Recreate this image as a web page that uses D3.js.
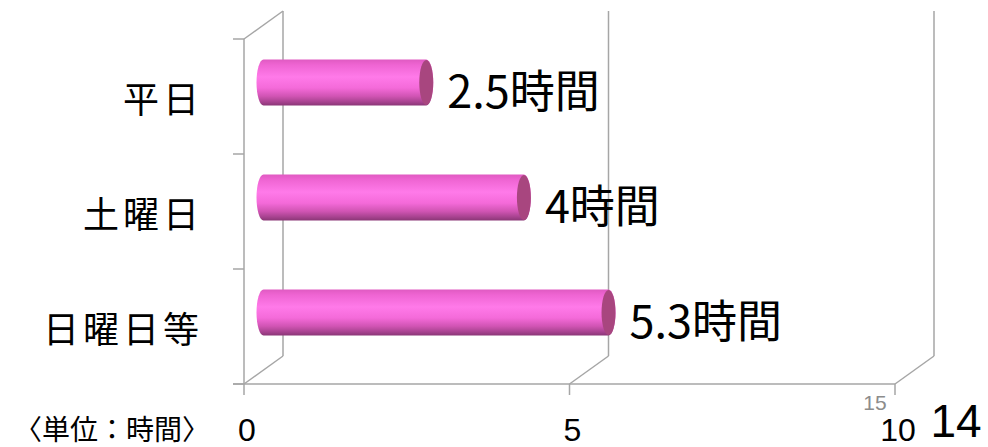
<!DOCTYPE html>
<html><head><meta charset="utf-8">
<script src="https://cdn.jsdelivr.net/npm/d3@7"></script>
<style>
html,body{margin:0;padding:0;background:#fff;}
svg{display:block;}
text{font-family:"Noto Sans CJK JP","Noto Sans",sans-serif;}
</style></head><body>
<svg id="chart" width="988" height="447"></svg>
<script>
const categories = ["平日", "土曜日", "日曜日等"];
const values = [2.5, 4, 5.3];
const valueLabels = ["2.5時間", "4時間", "5.3時間"];
const tickValues = [0, 5, 10];
const unitLabel = "〈単位：時間〉";
const extraTickLabel = "15";
const pageNumber = "14";

const svg = d3.select("#chart");

// front plane scales
const x = d3.scaleLinear().domain([0, 10]).range([244, 895]);
const y = d3.scaleBand().domain(categories).range([39, 384]);
const depth = {dx: 39, dy: -28};
const grid = "#a6a6a6";

const defs = svg.append("defs");
const grad = defs.append("linearGradient").attr("id", "cyl")
  .attr("x1", 0).attr("y1", 0).attr("x2", 0).attr("y2", 1);
[["0%", "#e05ac2"], ["12%", "#ef65d3"], ["38%", "#ff7ae9"], ["62%", "#f46ad9"],
 ["80%", "#d054b3"], ["92%", "#a84390"], ["100%", "#8a3676"]]
  .forEach(([o, c]) => grad.append("stop").attr("offset", o).attr("stop-color", c));

const g = svg.append("g");

// back wall verticals (gridlines)
g.selectAll(".backv").data(tickValues).join("line")
  .attr("x1", d => x(d) + depth.dx).attr("x2", d => x(d) + depth.dx)
  .attr("y1", y.range()[0] + depth.dy).attr("y2", y.range()[1] + depth.dy)
  .attr("stroke", grid).attr("stroke-width", 1.5);
// floor diagonals
g.selectAll(".floord").data(tickValues).join("line")
  .attr("x1", d => x(d)).attr("x2", d => x(d) + depth.dx)
  .attr("y1", y.range()[1]).attr("y2", y.range()[1] + depth.dy)
  .attr("stroke", grid).attr("stroke-width", 1.5);
// top-left diagonal of side wall
g.append("line")
  .attr("x1", x(0)).attr("x2", x(0) + depth.dx)
  .attr("y1", y.range()[0]).attr("y2", y.range()[0] + depth.dy)
  .attr("stroke", grid).attr("stroke-width", 1.5);
// front left axis
g.append("line").attr("x1", x(0)).attr("x2", x(0))
  .attr("y1", y.range()[0]).attr("y2", y.range()[1])
  .attr("stroke", grid).attr("stroke-width", 1.5);
// category ticks
const catTicks = categories.map(c => y(c)).concat([y.range()[1]]);
g.selectAll(".ctick").data(catTicks).join("line")
  .attr("x1", x(0) - 11).attr("x2", x(0))
  .attr("y1", d => d).attr("y2", d => d)
  .attr("stroke", grid).attr("stroke-width", 1.5);
// floor front line
g.append("line").attr("x1", x(0) - 11).attr("x2", x(10))
  .attr("y1", y.range()[1]).attr("y2", y.range()[1])
  .attr("stroke", grid).attr("stroke-width", 1.5);
// x ticks
g.selectAll(".xtick").data(tickValues).join("line")
  .attr("x1", d => x(d)).attr("x2", d => x(d))
  .attr("y1", y.range()[1]).attr("y2", y.range()[1] + 11)
  .attr("stroke", grid).attr("stroke-width", 1.5);

// bars at mid depth
const mx = v => x(v) + depth.dx / 2;
const my = c => y(c) + y.bandwidth() / 2 + depth.dy / 2;
const barH = 46, rx = 7, ry = barH / 2;

const bars = g.selectAll(".bar").data(categories.map((c, i) => ({c, v: values[i], label: valueLabels[i]})))
  .join("g");
bars.append("path")
  .attr("d", d => {
    const x0 = mx(0), x1 = mx(d.v), yc = my(d.c);
    const t = yc - ry, b = yc + ry;
    return `M${x0},${t} L${x1},${t} A${rx},${ry} 0 0 1 ${x1},${b} L${x0},${b} A${rx},${ry} 0 0 1 ${x0},${t} Z`;
  })
  .attr("fill", "url(#cyl)");
bars.append("ellipse")
  .attr("cx", d => mx(d.v)).attr("cy", d => my(d.c))
  .attr("rx", rx).attr("ry", ry - 0.5)
  .attr("fill", "#a8467f");
bars.append("text")
  .attr("x", d => mx(d.v) + rx + 14)
  .attr("y", d => my(d.c) + 6)
  .attr("dominant-baseline", "central")
  .attr("font-size", 45).attr("fill", "#000")
  .text(d => d.label);

// category labels
g.selectAll(".cat").data(categories).join("text")
  .attr("x", 203).attr("y", d => y(d) + y.bandwidth() / 2)
  .attr("text-anchor", "end").attr("dominant-baseline", "central")
  .attr("font-size", 36).attr("letter-spacing", 4)
  .text(d => d);

// x tick labels
g.selectAll(".xlab").data(tickValues).join("text")
  .attr("x", d => x(d) + 3).attr("y", 441)
  .attr("text-anchor", "middle").attr("font-size", 32).attr("fill", "#000")
  .style("font-family", "'Liberation Sans', Arial, sans-serif")
  .text(d => d);
g.append("text").attr("x", x(10) - 20).attr("y", 410)
  .attr("text-anchor", "middle").attr("font-size", 21).attr("fill", "#8c8c8c")
  .style("font-family", "'Liberation Sans', Arial, sans-serif")
  .text(extraTickLabel);
g.append("text").attr("x", 14).attr("y", 440)
  .attr("font-size", 28).attr("fill", "#000").text(unitLabel);
g.append("text").attr("x", 956).attr("y", 437)
  .attr("text-anchor", "middle").attr("font-size", 46).attr("fill", "#000")
  .style("font-family", "'Liberation Sans', Arial, sans-serif")
  .text(pageNumber);
</script></body></html>
